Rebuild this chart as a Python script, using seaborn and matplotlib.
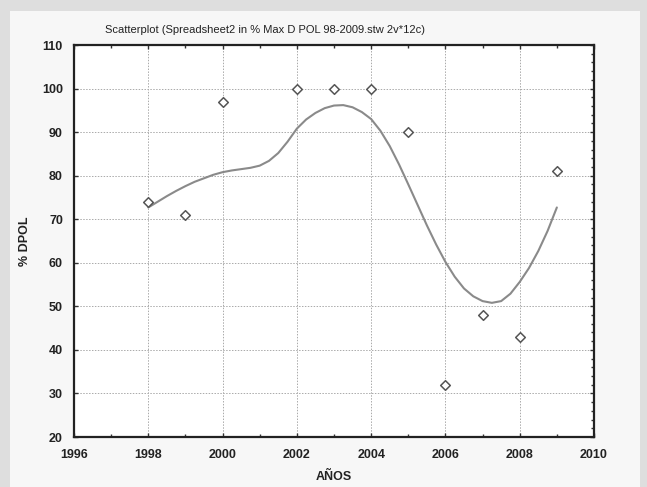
import matplotlib
matplotlib.use("Agg")
import matplotlib.pyplot as plt
import seaborn as sns
import pandas as pd
from matplotlib.patches import Rectangle
from matplotlib.ticker import MultipleLocator

# ---- data ----
years = [1998, 1999, 2000, 2002, 2003, 2004, 2005, 2006, 2007, 2008, 2009]
dpol = [74, 71, 97, 100, 100, 100, 90, 32, 48, 43, 81]

fit_x = [1998, 1998.25, 1998.5, 1998.75, 1999, 1999.25, 1999.5, 1999.75,
         2000, 2000.25, 2000.5, 2000.75, 2001, 2001.25, 2001.5, 2001.75,
         2002, 2002.25, 2002.5, 2002.75, 2003, 2003.25, 2003.5, 2003.75,
         2004, 2004.25, 2004.5, 2004.75, 2005, 2005.25, 2005.5, 2005.75,
         2006, 2006.25, 2006.5, 2006.75, 2007, 2007.25, 2007.5, 2007.75,
         2008, 2008.25, 2008.5, 2008.75, 2009]
fit_y = [72.7, 74.0, 75.3, 76.5, 77.6, 78.6, 79.4, 80.2,
         80.8, 81.2, 81.5, 81.8, 82.3, 83.4, 85.2, 87.8,
         90.8, 92.9, 94.4, 95.5, 96.1, 96.2, 95.7, 94.6,
         93.0, 90.3, 86.8, 82.6, 78.0, 73.3, 68.6, 64.2,
         60.2, 56.8, 54.1, 52.3, 51.2, 50.8, 51.2, 52.9,
         55.6, 58.8, 62.7, 67.3, 72.7]

xticks = [1996, 1998, 2000, 2002, 2004, 2006, 2008, 2010]
yticks = [20, 30, 40, 50, 60, 70, 80, 90, 100, 110]

title = "Scatterplot (Spreadsheet2 in % Max D POL 98-2009.stw 2v*12c)"
xlabel = "AÑOS"
ylabel = "% DPOL"

sns.set_theme(style="white")
plt.rcParams['font.family'] = ['Liberation Sans', 'DejaVu Sans']

fig = plt.figure(figsize=(6.47, 4.87), dpi=100)
fig.patch.set_facecolor("#dedede")
fig.add_artist(Rectangle((10/647, 0), (640-10)/647, 1 - 11/487,
                         transform=fig.transFigure, facecolor="#f7f7f7",
                         edgecolor="none", zorder=0))

ax = fig.add_axes([74/647, 1 - 437/487, (594-74)/647, (437-45)/487])
ax.set_facecolor("white")

df_pts = pd.DataFrame({"x": years, "y": dpol})
df_fit = pd.DataFrame({"x": fit_x, "y": fit_y})

sns.lineplot(data=df_fit, x="x", y="y", ax=ax, color="#8a8a8a", lw=1.5,
             sort=False, zorder=3)
sns.scatterplot(data=df_pts, x="x", y="y", ax=ax, marker="D", s=24,
                facecolor="white", edgecolor="#555555", linewidth=1.1,
                zorder=4, clip_on=True)

ax.set_xlim(1996, 2010)
ax.set_ylim(20, 110)
ax.set_xticks(xticks)
ax.set_yticks(yticks)
ax.xaxis.set_minor_locator(MultipleLocator(1))
ax.yaxis.set_minor_locator(MultipleLocator(2))
ax.set_xticklabels([str(v) for v in xticks], fontsize=9, fontweight="bold", color="#222222")
ax.set_yticklabels([str(v) for v in yticks], fontsize=9, fontweight="bold", color="#222222")

ax.tick_params(axis="x", which="major", direction="in", length=3, width=1,
               color="#333333", pad=9, top=True, bottom=True)
ax.tick_params(axis="y", which="major", direction="in", length=3, width=1,
               color="#333333", pad=8, left=True, right=True)
ax.tick_params(axis="x", which="minor", direction="in", length=2, width=1,
               top=True, bottom=True, color="#333333")
ax.tick_params(axis="y", which="minor", direction="in", length=2, width=1,
               left=False, right=True, color="#333333")

ax.grid(True, which="major", color="#aaaaaa", linestyle=(0, (1.5, 1.5)), lw=0.7)
for s in ax.spines.values():
    s.set_color("#222222")
    s.set_linewidth(1.6)

ax.set_xlabel(xlabel, fontsize=9, fontweight="bold", color="#222222", labelpad=7)
ax.set_ylabel(ylabel, fontsize=9, fontweight="bold", color="#222222", labelpad=8)

fig.text(265/647, 1 - 30/487, title, fontsize=8, ha="center", va="center",
         color="#222222")

fig.savefig("out.png", dpi=100, facecolor=fig.get_facecolor())
